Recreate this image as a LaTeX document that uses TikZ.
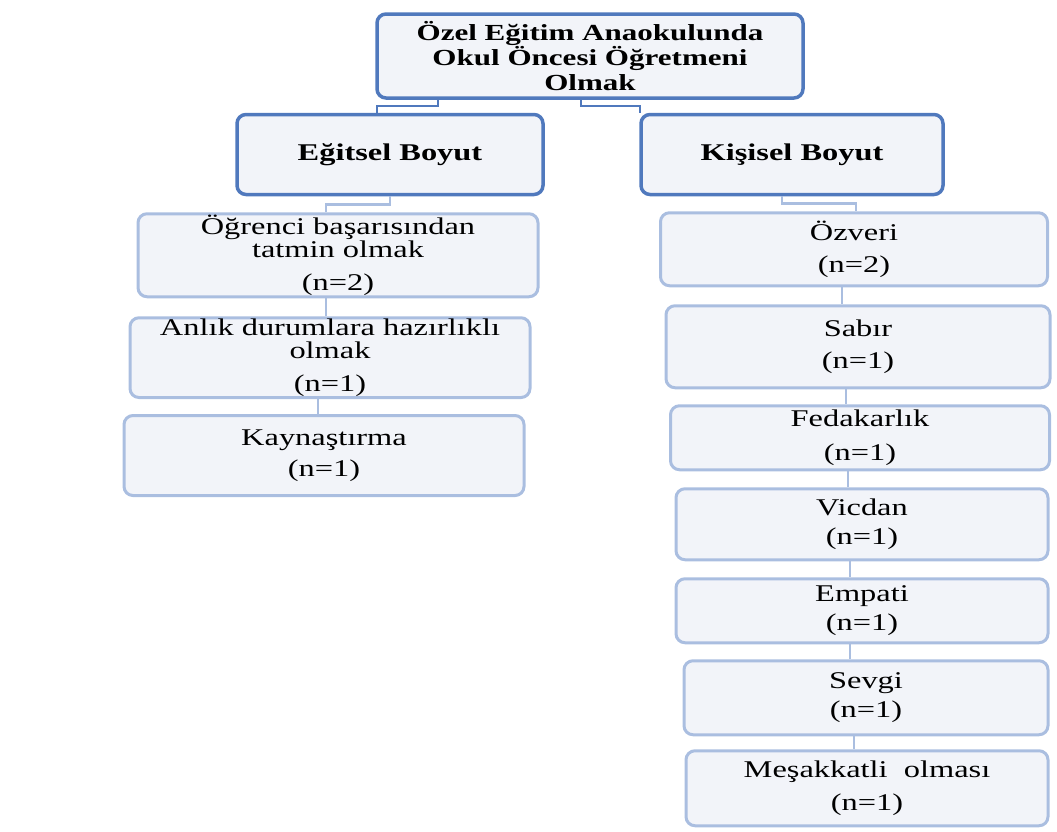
\documentclass[tikz,border=0pt]{standalone}
\usepackage{fontspec}
\setmainfont{Liberation Serif}[FakeStretch=1.35]
\usetikzlibrary{positioning}

\definecolor{headline}{HTML}{5079BD}
\definecolor{leafline}{HTML}{AABEE0}
\definecolor{boxfill}{HTML}{F2F4F9}

\begin{document}
\begin{tikzpicture}[
	x=1pt, y=1pt,
	node distance=16pt and 0pt,
	head/.style={rectangle, draw=headline, line width=3.5pt, fill=boxfill,
		rounded corners=9pt, align=center, inner sep=1pt,
		font=\bfseries\fontsize{24}{25}\selectfont},
	leaf/.style={rectangle, draw=leafline, line width=3pt, fill=boxfill,
		rounded corners=9pt, align=center, inner sep=1pt,
		font=\fontsize{24}{23.5}\selectfont, minimum width=400pt},
	link/.style={draw=leafline, line width=2.5pt},
	]
	\useasboundingbox (0,0) rectangle (1057,-831);

	\node [head, minimum width=426pt, minimum height=84pt, font=\bfseries\fontsize{23}{25}\selectfont] (root) at (590,-56)
		{Özel Eğitim Anaokulunda\\Okul Öncesi Öğretmeni\\Olmak};
	\node [head, minimum width=306pt, minimum height=80pt, below=13pt of root, xshift=-200pt] (egitsel) {Eğitsel Boyut};
	\node [head, minimum width=302pt, minimum height=80pt, below=13pt of root, xshift=202pt] (kisisel) {Kişisel Boyut};

	% Eğitsel boyut
	\node [leaf, minimum height=83pt, below=of egitsel, xshift=-52pt] (l1) {Öğrenci başarısından\\tatmin olmak\\[9pt](n=2)};
	\node [leaf, minimum height=76pt, below=18pt of l1, xshift=-8pt] (l2) {Anlık durumlara hazırlıklı\\olmak\\[9pt](n=1)};
	\node [leaf, minimum height=80pt, below=15pt of l2, xshift=-6pt] (l3) {Kaynaştırma\\[8pt](n=1)};

	% Kişisel boyut
	\node [leaf, minimum width=387pt, minimum height=73pt, below=15pt of kisisel, xshift=62pt] (r1) {Özveri\\[8pt](n=2)};
	\node [leaf, minimum width=384pt, minimum height=82pt, below=17pt of r1, xshift=4pt] (r2) {Sabır\\[9pt](n=1)};
	\node [leaf, minimum width=379pt, minimum height=64pt, below=15pt of r2, xshift=2pt] (r3) {Fedakarlık\\[10pt](n=1)};
	\node [leaf, minimum width=372pt, minimum height=71pt, below=of r3, xshift=2pt] (r4) {Vicdan\\[5pt](n=1)};
	\node [leaf, minimum width=372pt, minimum height=64pt, below=of r4] (r5) {Empati\\[6pt](n=1)};
	\node [leaf, minimum width=364pt, minimum height=74pt, below=15pt of r5, xshift=4pt] (r6) {Sevgi\\[6pt](n=1)};
	\node [leaf, minimum width=362pt, minimum height=75pt, below=13pt of r6, xshift=1pt] (r7) {Meşakkatli\ \ olması\\[9pt](n=1)};

	\draw [link, draw=headline] ([xshift=-152pt]root.south) -- ++(0,-6pt) -| ([xshift=-13pt]egitsel.north);
	\draw [link, draw=headline] ([xshift=-9pt]root.south) -- ++(0,-6pt) -| ([xshift=-152pt]kisisel.north);
	\draw [link] (egitsel.south) -- ++(0,-8pt) -| ([xshift=-12pt]l1.north);
	\draw [link] ([xshift=-10pt]kisisel.south) -- ++(0,-7pt) -| ([xshift=2pt]r1.north);
	\foreach \a/\b in {l1/l2, l2/l3, r1/r2, r2/r3, r3/r4, r4/r5, r5/r6, r6/r7}
		\draw [link] ([xshift=-12pt]\a.south) -- ([xshift=-12pt]\a.south |- \b.north);
\end{tikzpicture}
\end{document}
